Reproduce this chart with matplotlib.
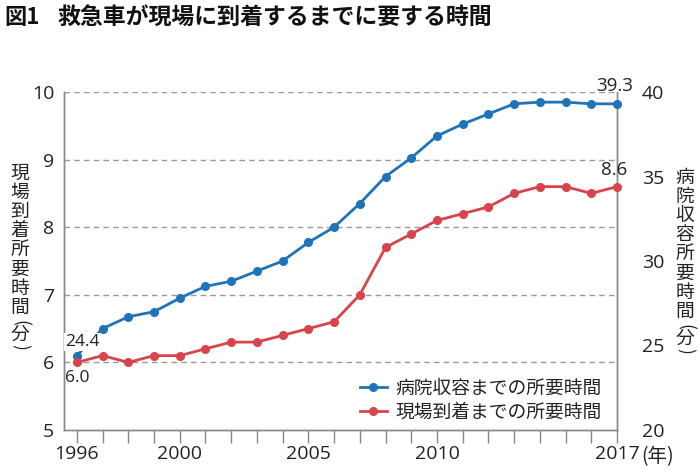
import matplotlib
matplotlib.use("Agg")
import matplotlib.pyplot as plt

plt.rcParams['font.family'] = ['Noto Sans CJK JP', 'DejaVu Sans']

years = list(range(1996, 2018))
# 現場到着までの所要時間 (分, 左軸)
arrive = [6.0, 6.1, 6.0, 6.1, 6.1, 6.2, 6.3, 6.3, 6.4, 6.5, 6.6,
          7.0, 7.7, 7.9, 8.1, 8.2, 8.3, 8.5, 8.6, 8.6, 8.5, 8.6]
# 病院収容までの所要時間 (分, 右軸)
hospital = [24.4, 26.0, 26.7, 27.0, 27.8, 28.5, 28.8, 29.4, 30.0, 31.1, 32.0,
            33.4, 35.0, 36.1, 37.4, 38.1, 38.7, 39.3, 39.4, 39.4, 39.3, 39.3]
xtick_years = [1996, 2000, 2005, 2010, 2017]
left_chars = list("現場到着所要時間")
right_chars = list("病院収容所要時間")

blue = "#1f74b9"
red = "#d9434b"
gray = "#888888"
txt = "#222222"

fig = plt.figure(figsize=(7, 4.74), dpi=100)
W, H = 700, 474
ax = fig.add_axes([64 / W, 1 - 430 / H, (617 - 64) / W, (430 - 92) / H])
ax2 = ax.twinx()

ax.set_xlim(1995.5, 2017)
ax.set_ylim(5, 10)
ax2.set_ylim(20, 40)

for y in [6, 7, 8, 9, 10]:
    ax.axhline(y, color="#999999", lw=1, ls=(0, (4, 3)), zorder=0)

l2, = ax2.plot(years, hospital, color=blue, lw=2, marker="o", ms=5.5,
               label="病院収容までの所要時間", clip_on=False, zorder=3)
l1, = ax2.plot(years, [v * 4 for v in arrive], color=red, lw=2, marker="o",
               ms=5.5, label="現場到着までの所要時間", clip_on=False, zorder=3)

ax.set_xticks(years)
ax.set_xticklabels(["" for _ in years])
ax.tick_params(axis="x", direction="out", length=9, color=gray, width=1)
for yr in xtick_years:
    ax.text(yr, 4.78, str(yr), ha="center", va="top", fontsize=14, color=txt,
            fontfamily=['Open Sans'])
ax.text(2017.93, 4.76, "(年)", ha="left", va="top", fontsize=14, color=txt)

ax.set_yticks([5, 6, 7, 8, 9, 10])
ax.tick_params(axis="y", length=0, labelsize=14, labelcolor=txt, pad=7)
for t in ax.get_yticklabels():
    t.set_fontfamily(['Open Sans'])
ax2.set_yticks([20, 25, 30, 35, 40])
ax2.tick_params(axis="y", length=0, labelsize=14, labelcolor=txt, pad=18)
for t in ax2.get_yticklabels():
    t.set_fontfamily(['Open Sans'])

for a in (ax, ax2):
    a.spines["top"].set_visible(False)
    for s in ("left", "right", "bottom"):
        a.spines[s].set_color(gray)
        a.spines[s].set_linewidth(1)

ax2.text(1996.2, 25.2, "24.4", fontsize=12.5, ha="center", va="center", color=txt,
         fontfamily=['Open Sans'], zorder=4,
         bbox=dict(boxstyle="square,pad=0.05", fc="white", ec="none"))
ax2.text(1996, 23.1, "6.0", fontsize=12.5, ha="center", va="center", color=txt,
         fontfamily=['Open Sans'])
ax2.text(2016.9, 40.35, "39.3", fontsize=13.5, ha="center", va="center", color=txt,
         fontfamily=['Open Sans'])
ax2.text(2016.9, 35.4, "8.6", fontsize=13.5, ha="center", va="center", color=txt,
         fontfamily=['Open Sans'])

leg = ax2.legend(handles=[l2, l1], loc="lower right", bbox_to_anchor=(0.985, 0.0),
                 frameon=False, fontsize=13.5, handlelength=1.4, handletextpad=0.45,
                 labelspacing=0.15, borderaxespad=0)
for t in leg.get_texts():
    t.set_color(txt)


def vertical_label(x, y0, chars):
    # 縦書きラベル: 1文字ずつ配置し、括弧は横倒しにする
    y = y0
    for c in chars:
        fig.text(x / W, 1 - y / H, c, fontsize=13.5, ha="center", va="center", color=txt)
        y += 19.2
    y -= 4
    fig.text(x / W, 1 - y / H, "(", fontsize=12.5, rotation=-90, ha="center",
             va="center", color=txt)
    y += 12
    fig.text(x / W, 1 - y / H, "分", fontsize=13.5, ha="center", va="center", color=txt)
    y += 12
    fig.text(x / W, 1 - y / H, ")", fontsize=12.5, rotation=-90, ha="center",
             va="center", color=txt)


vertical_label(20, 173, left_chars)
vertical_label(685, 177, right_chars)

fig.text(4 / W, 1 - 18 / H, "図1", fontsize=16, fontweight="bold", ha="left",
         va="center", color="#111111")
fig.text(57 / W, 1 - 18 / H, "救急車が現場に到着するまでに要する時間", fontsize=16.5,
         fontweight="bold", ha="left", va="center", color="#111111")

fig.savefig("out.png", dpi=100)
